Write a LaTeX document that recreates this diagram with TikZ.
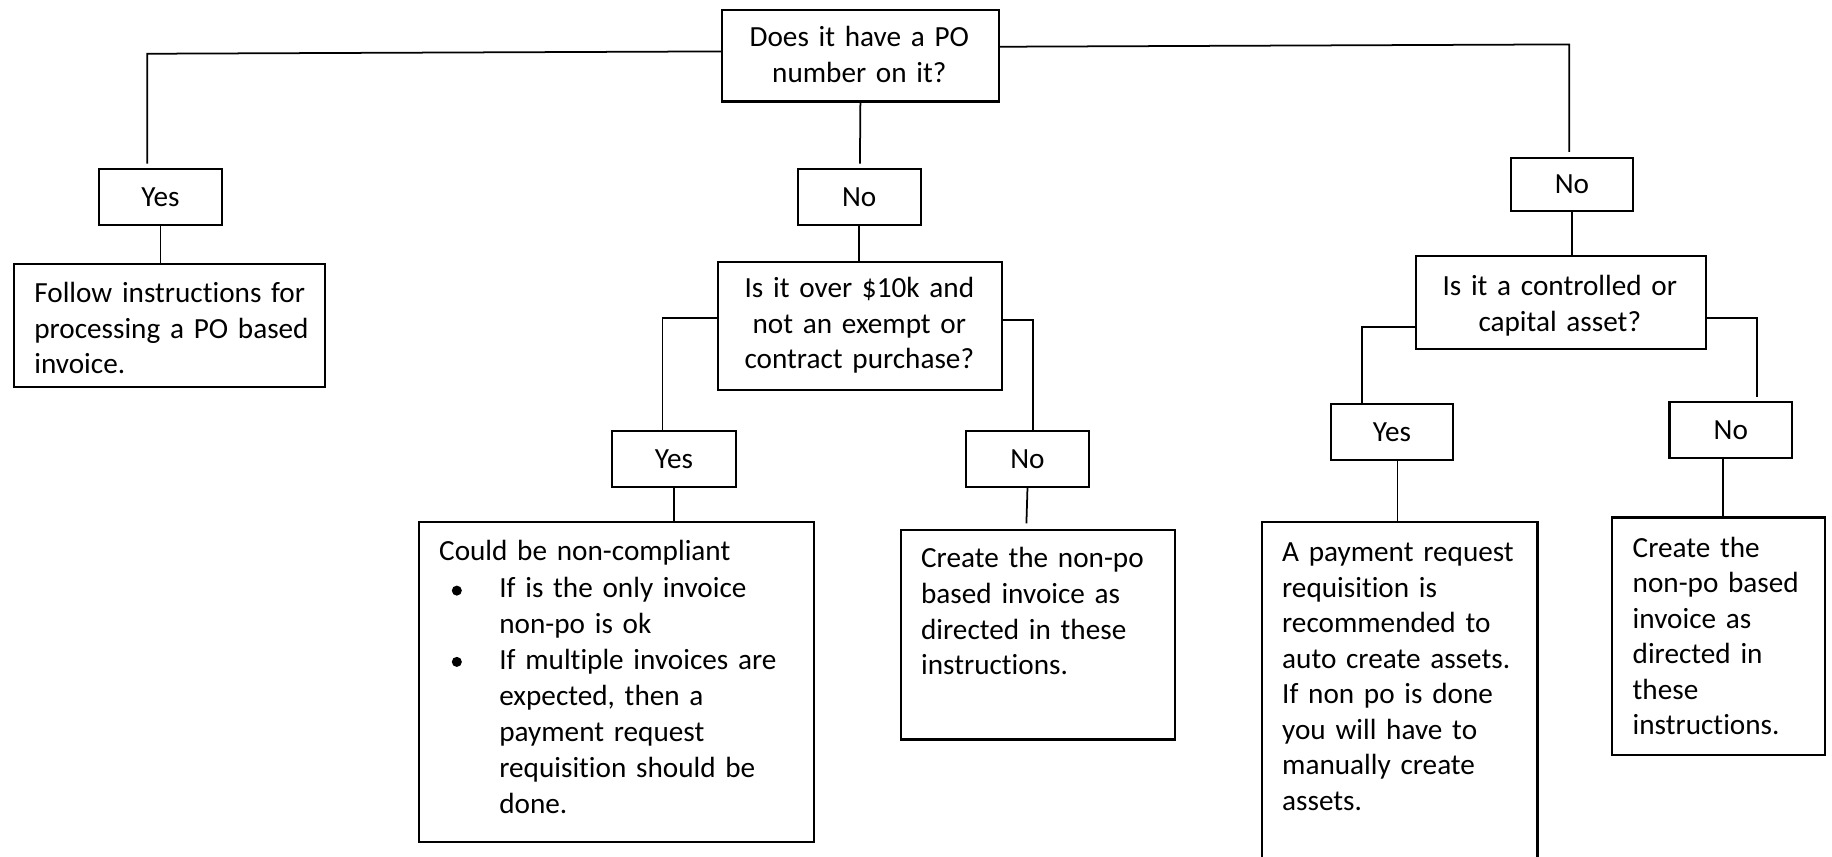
\documentclass[tikz,border=0pt]{standalone}
\usepackage{fontspec}
\setmainfont{Carlito}[Ligatures=NoCommon]
\begin{document}
\begin{tikzpicture}[x=0.5pt,y=-0.5pt,
  box/.style={draw=black,line width=0.9pt,rectangle,anchor=north west,inner sep=0pt,
    font=\fontsize{12.5}{15.2}\selectfont},
  conn/.style={draw=black,line width=0.75pt},
  txtl/.style={anchor=base west,inner sep=0pt,text width=160pt,align=left,
    font=\fontsize{12.5}{15.2}\selectfont},
  txtc/.style={anchor=base,inner sep=0pt,align=center,
    font=\fontsize{12.5}{15.2}\selectfont},
  bul/.style={circle,fill=black,inner sep=0pt,minimum size=4.3pt}]
\useasboundingbox (0,0) rectangle (1568,733.5);
\clip (0,0) rectangle (1568,733.5);

% boxes
\node[box,minimum width=118.5pt,minimum height=39pt] (top) at (617,8) {};
\node[box,minimum width=52.5pt,minimum height=24pt] (yes1) at (84,144) {Yes};
\node[box,minimum width=133pt,minimum height=52.5pt] (follow) at (11,225) {};
\node[box,minimum width=52.5pt,minimum height=24pt] (no1) at (682,144) {No};
\node[box,minimum width=121.5pt,minimum height=55pt] (q2) at (614,223) {};
\node[box,minimum width=53pt,minimum height=24pt] (yes2) at (523,368) {Yes};
\node[box,minimum width=52.5pt,minimum height=24pt] (no2) at (826,368) {No};
\node[box,minimum width=169pt,minimum height=137pt] (could) at (358,446) {};
\node[box,minimum width=117.5pt,minimum height=89.5pt] (create1) at (770,453) {};
\node[box,minimum width=52.5pt,minimum height=23pt] (no3) at (1292,134) {No};
\node[box,minimum width=124pt,minimum height=40pt] (q3) at (1211,218) {};
\node[box,minimum width=52.5pt,minimum height=24pt] (yes3) at (1138,345) {Yes};
\node[box,minimum width=52.5pt,minimum height=24pt] (no4) at (1428,343) {No};
\node[box,minimum width=118pt,minimum height=154pt] (payreq) at (1079,446) {};
\node[box,minimum width=91pt,minimum height=101.5pt] (create2) at (1379,442) {};

% texts
\node[txtc,text width=115pt] (ttop) at (735.5,40) {Does it have a PO\\number on it?};
\node[txtl] (tfollow) at (29,259) {Follow instructions for\\processing a PO based\\invoice.};
\node[txtc,text width=118pt] (tq2) at (735.5,255) {Is it over \$10k and\\not an exempt or\\contract purchase?};
\node[txtl] (tcould) at (375.5,480) {Could be non-compliant};
\node[bul] (b1) at (391,505.5) {};
\node[txtl,font=\fontsize{12.5}{15.4}\selectfont] (ti1) at (427,511.2) {If is the only invoice\\non-po is ok};
\node[bul] (b2) at (391,566.5) {};
\node[txtl,font=\fontsize{12.5}{15.4}\selectfont] (ti2) at (427,573) {If multiple invoices are\\expected, then a\\payment request\\requisition should be\\done.};
\node[txtl,font=\fontsize{12.5}{15.35}\selectfont] (tcreate1) at (788,485.6) {Create the non-po\\based invoice as\\directed in these\\instructions.};
\node[txtc,text width=120pt] (tq3) at (1335,253) {Is it a controlled or\\capital asset?};
\node[txtl] (tpay) at (1097,480.7) {A payment request\\requisition is\\recommended to\\auto create assets.\\If non po is done\\you will have to\\manually create\\assets.};
\node[txtl] (tcreate2) at (1397,477) {Create the\\non-po based\\invoice as\\directed in\\these\\instructions.};

% connector points
\coordinate (a1) at (126,46);
\coordinate (a2) at (126,140);
\coordinate (bb1) at (1343,38);
\coordinate (bb2) at (1343,130);
\coordinate (c1) at (736,140);
\coordinate (f1) at (567,272);
\coordinate (g1) at (884,274);
\coordinate (i1) at (878.5,448);
\coordinate (k1) at (1166,280);
\coordinate (l1) at (1504,272);
\coordinate (l2) at (1504,340);
\coordinate (m1) at (1196,393);
\coordinate (n1) at (1475,391);

% connectors
\draw[conn] (top.west |- 0,44) -- (a1) -- (a2);
\draw[conn] (top.east |- 0,40) -- (bb1) -- (bb2);
\draw[conn] (top.south) -- (c1);
\draw[conn] (yes1.south) -- (yes1.south |- follow.north);
\draw[conn] (no1.south) -- (no1.south |- q2.north);
\draw[conn] (q2.west |- f1) -- (f1) -- (f1 |- yes2.north);
\draw[conn] (q2.east |- g1) -- (g1) -- (g1 |- no2.north);
\draw[conn] (yes2.south) -- (yes2.south |- could.north);
\draw[conn] (no2.south) -- (i1);
\draw[conn] (no3.south) -- (no3.south |- q3.north);
\draw[conn] (q3.west |- k1) -- (k1) -- (k1 |- yes3.north);
\draw[conn] (q3.east |- l1) -- (l1) -- (l2);
\draw[conn] (m1) -- (m1 |- payreq.north);
\draw[conn] (n1) -- (n1 |- create2.north);
\end{tikzpicture}
\end{document}
